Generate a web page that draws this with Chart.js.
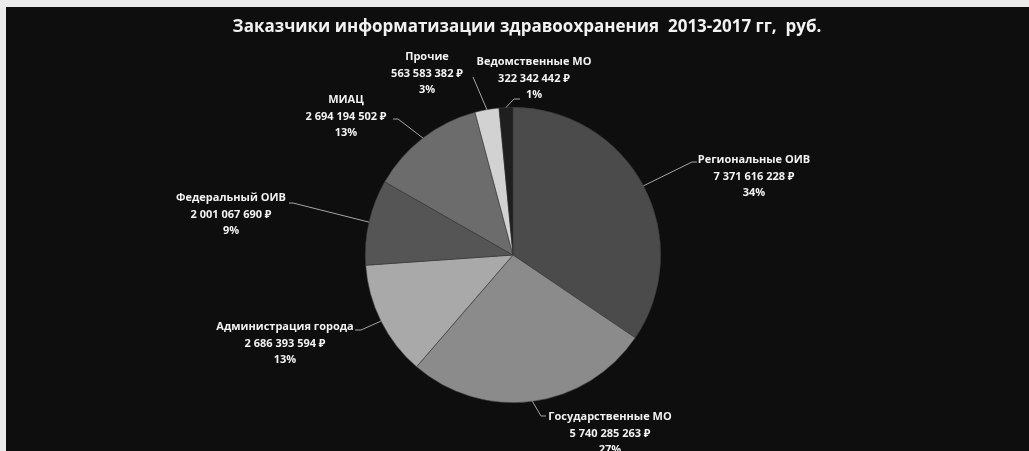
<!DOCTYPE html>
<html lang="ru">
<head>
<meta charset="utf-8">
<title>Заказчики информатизации здравоохранения 2013-2017 гг</title>
<script src="https://cdn.jsdelivr.net/npm/chart.js@4.4.1/dist/chart.umd.min.js"></script>
<style>
  html, body { margin: 0; padding: 0; background: #ebebeb; width: 1029px; height: 451px; overflow: hidden; }
  #frame { position: absolute; left: 6px; top: 7px; width: 1023px; height: 444px; background: #0e0e0e; }
  canvas { display: block; }
</style>
</head>
<body>
<div id="frame"><canvas id="pie" width="1023" height="444"></canvas></div>
<script>
// Customers of healthcare informatization, 2013-2017, roubles
const categories = [
  'Региональные ОИВ',
  'Государственные МО',
  'Администрация города',
  'Федеральный ОИВ',
  'МИАЦ',
  'Прочие',
  'Ведомственные МО'
];
const amounts = [7371616228, 5740285263, 2686393594, 2001067690, 2694194502, 563583382, 322342442];
const amountLabels = ['7 371 616 228 ₽', '5 740 285 263 ₽', '2 686 393 594 ₽', '2 001 067 690 ₽', '2 694 194 502 ₽', '563 583 382 ₽', '322 342 442 ₽'];
const percentLabels = ['34%', '27%', '13%', '9%', '13%', '3%', '1%'];
const titleText = 'Заказчики информатизации здравоохранения  2013-2017 гг,  руб.';

// Slice fills, in the same order as the categories
const sliceColors = ['#4b4b4b', '#8b8b8b', '#a9a9a9', '#555555', '#6c6c6c', '#d2d2d2', '#1f1f1f'];

// Where each callout sits: text centre, first-line y, and leader path after the arc point
const calloutLayout = [
  { x: 748, y: 153, path: [[686, 155], [691, 155]] },
  { x: 604, y: 410, path: [[535, 409], [540, 409]] },
  { x: 279, y: 320, path: [[355, 323], [349, 323]] },
  { x: 225, y: 191, path: [[287, 196], [283, 196]] },
  { x: 340, y: 93,  path: [[392, 112], [387, 112]] },
  { x: 421, y: 50,  path: [[467, 70]] },
  { x: 528, y: 55,  path: [[508, 92], [514, 92]] }
];

const FONT = '"Open Sans", "Noto Sans", sans-serif';

const calloutPlugin = {
  id: 'callouts',
  afterDatasetsDraw(chart) {
    const ctx = chart.ctx;
    const arcs = chart.getDatasetMeta(0).data;
    ctx.save();
    arcs.forEach((arc, i) => {
      const p = arc.getProps(['x', 'y', 'startAngle', 'endAngle', 'outerRadius'], true);
      const mid = (p.startAngle + p.endAngle) / 2;
      const ax = p.x + Math.cos(mid) * p.outerRadius;
      const ay = p.y + Math.sin(mid) * p.outerRadius;
      const lay = calloutLayout[i];
      ctx.strokeStyle = '#a6a6a6';
      ctx.lineWidth = 1;
      ctx.beginPath();
      ctx.moveTo(ax, ay);
      lay.path.forEach(pt => ctx.lineTo(pt[0], pt[1]));
      ctx.stroke();

      ctx.fillStyle = '#f2f2f2';
      ctx.font = 'bold 11px ' + FONT;
      ctx.textAlign = 'center';
      ctx.textBaseline = 'middle';
      const lines = [categories[i], amountLabels[i], percentLabels[i]];
      lines.forEach((t, k) => ctx.fillText(t, lay.x, lay.y + k * 16.5));
    });

    // chart title
    ctx.font = 'bold 17px ' + FONT;
    ctx.fillStyle = '#f2f2f2';
    ctx.textAlign = 'center';
    ctx.textBaseline = 'middle';
    ctx.fillText(titleText, 521, 20);
    ctx.restore();
  }
};

new Chart(document.getElementById('pie'), {
  type: 'pie',
  data: {
    labels: categories,
    datasets: [{
      data: amounts,
      backgroundColor: sliceColors,
      borderColor: '#3a3a3a',
      borderWidth: 0.6
    }]
  },
  options: {
    responsive: false,
    devicePixelRatio: 1,
    animation: false,
    layout: { padding: { top: 100, bottom: 48, left: 0, right: 9 } },
    plugins: {
      legend: { display: false },
      tooltip: { enabled: false },
      title: { display: false }
    }
  },
  plugins: [calloutPlugin]
});
</script>
</body>
</html>
